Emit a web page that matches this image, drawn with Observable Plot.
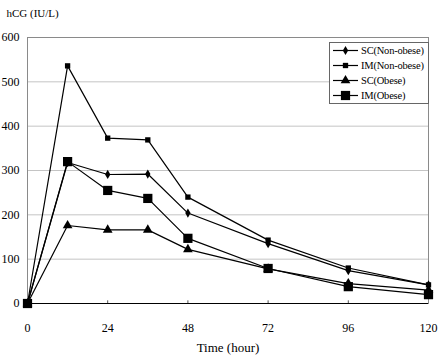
<!DOCTYPE html>
<html>
<head>
<meta charset="utf-8">
<script src="https://cdn.jsdelivr.net/npm/d3@7"></script>
<script src="https://cdn.jsdelivr.net/npm/@observablehq/plot@0.6"></script>
<style>
  body { margin: 0; background: #fff; }
  #wrap { position: relative; width: 440px; height: 360px; font-family: "Liberation Serif", serif; }
  #legend { position: absolute; left: 329px; top: 42px; width: 98px; height: 60px; border: 1px solid #666; background: #fff; font-size: 10.5px; white-space: nowrap; overflow: hidden; }
  .item { display: flex; align-items: center; height: 15px; }
  .item svg { flex: none; }
  .item span { letter-spacing: -0.2px; }
</style>
</head>
<body>
<div id="wrap"><div id="legend"></div></div>
<script>
const times = [0, 12, 24, 36, 48, 72, 96, 120];
const seriesNames = ["SC(Non-obese)", "IM(Non-obese)", "SC(Obese)", "IM(Obese)"];
const scNonObese = [0, 318, 291, 292, 204, 135, 74, 42];
const imNonObese = [0, 536, 373, 369, 240, 143, 80, 42];
const scObese = [0, 176, 166, 166, 122, 78, 45, 30];
const imObese = [0, 320, 255, 237, 147, 79, 38, 20];
const xTicks = [0, 24, 48, 72, 96, 120];
const yTicks = [0, 100, 200, 300, 400, 500, 600];
const yGrid = [100, 200, 300, 400, 500];

const valuesList = [scNonObese, imNonObese, scObese, imObese];
const symbols = ["diamond", "square", "triangle", "square"];
const radii = [2.8, 3, 3.6, 5.2];

const data = seriesNames.flatMap((name, k) =>
  times.map((t, i) => ({series: name, time: t, value: valuesList[k][i]})));

const dotMarks = seriesNames.map((name, k) =>
  Plot.dot(data.filter(d => d.series === name), {
    x: "time", y: "value", symbol: symbols[k], r: radii[k], fill: "black", stroke: "none"
  }));

const chart = Plot.plot({
  width: 440,
  height: 360,
  marginLeft: 27,
  marginRight: 12,
  marginTop: 37,
  marginBottom: 57,
  style: {fontFamily: "'Liberation Serif', serif", fontSize: "12px", background: "white"},
  x: {domain: [0, 120]},
  y: {domain: [0, 600]},
  marks: [
    Plot.gridY(yGrid, {stroke: "#c4c4c4", strokeOpacity: 1}),
    Plot.frame({stroke: "#8a8a8a"}),
    Plot.ruleY([0], {stroke: "#000", strokeWidth: 1.2}),
    Plot.ruleX(xTicks.slice(1, -1), {y1: 0, y2: 6, stroke: "#555"}),
    Plot.axisY(yTicks, {tickSize: 0, tickPadding: 8, fontSize: 12, label: null}),
    Plot.axisX(xTicks, {tickSize: 0, tickPadding: 20, fontSize: 12, label: null}),
    Plot.line(data, {x: "time", y: "value", z: "series", stroke: "black", strokeWidth: 1.2}),
    ...dotMarks,
    Plot.text(["hCG (IU/L)"], {frameAnchor: "top-left", dx: -21, dy: -28, textAnchor: "start", fontSize: 11}),
    Plot.text(["Time (hour)"], {frameAnchor: "bottom", dy: 48, fontSize: 13})
  ]
});
document.getElementById("wrap").prepend(chart);

// legend
const legend = d3.select("#legend");
seriesNames.forEach((name, k) => {
  const item = legend.append("div").attr("class", "item");
  const svg = item.append("svg").attr("width", 31).attr("height", 15);
  svg.append("line").attr("x1", 3).attr("x2", 28).attr("y1", 7.5).attr("y2", 7.5)
    .attr("stroke", "black").attr("stroke-width", 1.2);
  const size = Math.PI * radii[k] * radii[k];
  const sym = {diamond: d3.symbolDiamond, square: d3.symbolSquare, triangle: d3.symbolTriangle}[symbols[k]];
  svg.append("path").attr("transform", "translate(15.5,7.5)")
    .attr("d", d3.symbol(sym, size)()).attr("fill", "black");
  item.append("span").text(name);
});
</script>
</body>
</html>
